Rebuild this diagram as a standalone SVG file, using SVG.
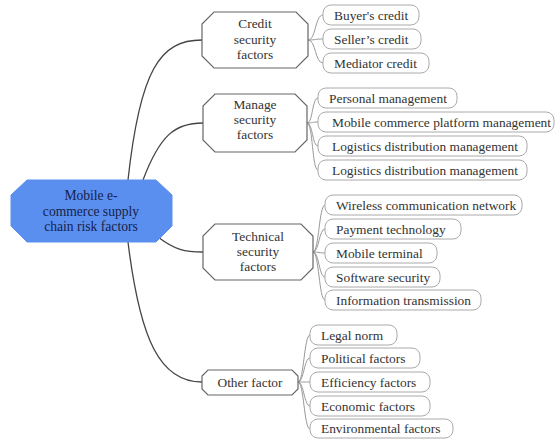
<svg xmlns="http://www.w3.org/2000/svg" width="555" height="439" viewBox="0 0 555 439">
<style>
text{font-family:"Liberation Serif","Times New Roman",serif;font-size:13.4px;}
.root{fill:#5B8FEF;stroke:#5B8FEF;stroke-width:1}
.rt{fill:#15224a;text-anchor:middle;font-size:13.6px}
.par{fill:#fff;stroke:#666;stroke-width:1.2}
.pt{fill:#333;text-anchor:middle}
.leaf{fill:#fff;stroke:#aaa;stroke-width:1}
.lt{fill:#333}
.main{fill:none;stroke:#444;stroke-width:1.3}
.sub{fill:none;stroke:#999;stroke-width:1}
</style>
<rect width="555" height="439" fill="#fff"/>
<g id="connectors">
<path class="main" d="M128,180 C140,70 160,40 202,40"/>
<path class="main" d="M143,180 C160,135 175,123 203,123"/>
<path class="main" d="M158,237 C175,250 185,252 203,252"/>
<path class="main" d="M128,242 C140,340 160,382 202,382"/>
<path class="sub" d="M308,40 C316,40 315,15 323,15"/>
<path class="sub" d="M308,40 C316,40 315,39 323,39"/>
<path class="sub" d="M308,40 C316,40 315,63 323,63"/>
<path class="sub" d="M307,123 C313,123 312,98 318,98"/>
<path class="sub" d="M307,123 C313,123 312,122 318,122"/>
<path class="sub" d="M307,123 C313,123 312,146 318,146"/>
<path class="sub" d="M307,123 C313,123 312,170 318,170"/>
<path class="sub" d="M313,252 C319,252 319,205 325,205"/>
<path class="sub" d="M313,252 C319,252 319,229 325,229"/>
<path class="sub" d="M313,252 C319,252 319,253 325,253"/>
<path class="sub" d="M313,252 C319,252 319,277 325,277"/>
<path class="sub" d="M313,252 C319,252 319,300 325,300"/>
<path class="sub" d="M298,382 C304,382 304,335 310,335"/>
<path class="sub" d="M298,382 C304,382 304,358 310,358"/>
<path class="sub" d="M298,382 C304,382 304,382 310,382"/>
<path class="sub" d="M298,382 C304,382 304,406 310,406"/>
<path class="sub" d="M298,382 C304,382 304,429 310,429"/>
</g>
<g id="root">
<polygon class="root" points="27,180 156,180 172,195 172,226 156,242 27,242 11,226 11,195"/>
<text class="rt" x="91" y="200">Mobile e-</text>
<text class="rt" x="91" y="216">commerce supply</text>
<text class="rt" x="91" y="231">chain risk factors</text>
</g>
<g id="credit">
<polygon class="par" points="214,12 296,12 308,24 308,56 296,68 214,68 202,56 202,24"/>
<text class="pt" x="255" y="28">Credit</text>
<text class="pt" x="255" y="44">security</text>
<text class="pt" x="255" y="59">factors</text>
</g>
<g id="credit-leaves">
<rect class="leaf" x="323" y="5" width="96" height="20" rx="8"/>
<text class="lt" x="334" y="19.5">Buyer's credit</text>
<rect class="leaf" x="323" y="29" width="98" height="20" rx="8"/>
<text class="lt" x="334" y="43.5">Seller’s credit</text>
<rect class="leaf" x="323" y="53" width="106" height="20" rx="8"/>
<text class="lt" x="334" y="67.5">Mediator credit</text>
</g>
<g id="manage">
<polygon class="par" points="215,94 295,94 307,106 307,140 295,152 215,152 203,140 203,106"/>
<text class="pt" x="255" y="109">Manage</text>
<text class="pt" x="255" y="124">security</text>
<text class="pt" x="255" y="139">factors</text>
</g>
<g id="manage-leaves">
<rect class="leaf" x="318" y="88" width="139" height="20" rx="8"/>
<text class="lt" x="329" y="102.5">Personal management</text>
<rect class="leaf" x="318" y="112" width="236" height="20" rx="8"/>
<text class="lt" x="332" y="126.5">Mobile commerce platform management</text>
<rect class="leaf" x="318" y="136" width="209" height="20" rx="8"/>
<text class="lt" x="332" y="150.5">Logistics distribution management</text>
<rect class="leaf" x="318" y="160" width="209" height="20" rx="8"/>
<text class="lt" x="332" y="174.5">Logistics distribution management</text>
</g>
<g id="technical">
<polygon class="par" points="215,224 301,224 313,236 313,268 301,280 215,280 203,268 203,236"/>
<text class="pt" x="258" y="241">Technical</text>
<text class="pt" x="258" y="256">security</text>
<text class="pt" x="258" y="271">factors</text>
</g>
<g id="technical-leaves">
<rect class="leaf" x="325" y="195" width="197" height="20" rx="8"/>
<text class="lt" x="336" y="209.5">Wireless communication network</text>
<rect class="leaf" x="325" y="219" width="136" height="20" rx="8"/>
<text class="lt" x="336" y="233.5">Payment technology</text>
<rect class="leaf" x="325" y="243" width="112" height="20" rx="8"/>
<text class="lt" x="336" y="257.5">Mobile terminal</text>
<rect class="leaf" x="325" y="267" width="115" height="20" rx="8"/>
<text class="lt" x="336" y="281.5">Software security</text>
<rect class="leaf" x="325" y="290" width="156" height="20" rx="8"/>
<text class="lt" x="336" y="304.5">Information transmission</text>
</g>
<g id="other">
<polygon class="par" points="208,370 292,370 298,376 298,389 292,395 208,395 202,389 202,376"/>
<text class="pt" x="250" y="387">Other factor</text>
</g>
<g id="other-leaves">
<rect class="leaf" x="310" y="325" width="87" height="20" rx="8"/>
<text class="lt" x="321" y="339.5">Legal norm</text>
<rect class="leaf" x="310" y="348" width="110" height="20" rx="8"/>
<text class="lt" x="321" y="362.5">Political factors</text>
<rect class="leaf" x="310" y="372" width="120" height="20" rx="8"/>
<text class="lt" x="321" y="386.5">Efficiency factors</text>
<rect class="leaf" x="310" y="396" width="120" height="20" rx="8"/>
<text class="lt" x="321" y="410.5">Economic factors</text>
<rect class="leaf" x="310" y="419" width="143" height="19" rx="8"/>
<text class="lt" x="321" y="433">Environmental factors</text>
</g>
</svg>
